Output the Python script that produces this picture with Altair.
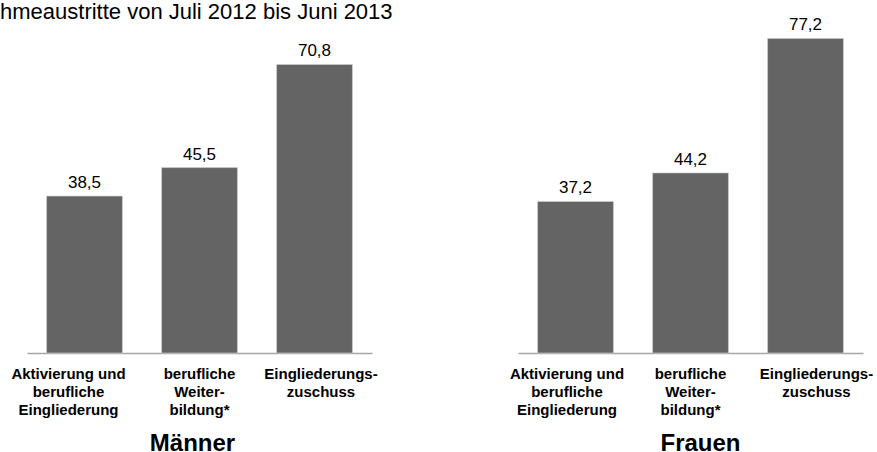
import altair as alt
import pandas as pd

FONT = "Liberation Sans"

title_text = "hmeaustritte von Juli 2012 bis Juni 2013"
categories = [
    "Aktivierung und|berufliche|Eingliederung",
    "berufliche|Weiter-|bildung*",
    "Eingliederungs-|zuschuss",
]
maenner = [38.5, 45.5, 70.8]
frauen = [37.2, 44.2, 77.2]
panel_names = ["Männer", "Frauen"]
# horizontal shift of the category labels relative to their bars (per panel)
label_shift = {"Männer": [-16, 0, 6.5], "Frauen": [-8.5, 0, 11]}
title_x = {"Männer": 165, "Frauen": 182}


def panel(values, name, with_title):
    df = pd.DataFrame({"kategorie": categories, "wert": values})
    base = alt.Chart(df).transform_calculate(
        label="replace(format(datum.wert, '.1f'), '.', ',')"
    )
    shifts = label_shift[name]
    label_offset = {
        "condition": [
            {"test": f"datum.value == '{categories[0]}'", "value": shifts[0]},
            {"test": f"datum.value == '{categories[2]}'", "value": shifts[2]},
        ],
        "value": shifts[1],
    }
    x = alt.X(
        "kategorie:N",
        sort=categories,
        scale=alt.Scale(paddingInner=0.34, paddingOuter=0.17),
        axis=alt.Axis(
            title=name,
            labelExpr="split(datum.label, '|')",
            labelAngle=0,
            labelFont=FONT,
            labelFontSize=15,
            labelFontWeight="bold",
            labelLineHeight=18,
            labelPadding=13,
            labelColor="black",
            labelLimit=300,
            labelOffset=label_offset,
            ticks=False,
            tickSize=0,
            domainColor="#a6a6a6",
            domainWidth=1.5,
            grid=False,
            titleFont=FONT,
            titleFontSize=24,
            titleFontWeight="bold",
            titleColor="black",
            titleX=title_x[name],
            titleY=97,
            titleBaseline="alphabetic",
        ),
    )
    y = alt.Y("wert:Q", scale=alt.Scale(domain=[0, 80]), axis=None)
    bars = base.mark_bar(color="#646464", stroke="#d4d4d4", strokeWidth=0.6).encode(x=x, y=y)
    labels = base.mark_text(
        fontSize=17, dy=-8, baseline="alphabetic", font=FONT, color="black"
    ).encode(x=alt.X("kategorie:N", sort=categories), y=y, text="label:N")
    layers = [bars, labels]
    if with_title:
        t = alt.Chart(alt.Data(values=[{"t": title_text}])).mark_text(
            align="left", baseline="alphabetic", fontSize=22, font=FONT, color="black"
        ).encode(x=alt.value(-27), y=alt.value(-8), text="t:N")
        layers.append(t)
    return alt.layer(*layers).properties(width=345, height=326)


chart = (
    alt.hconcat(
        panel(maenner, panel_names[0], True),
        panel(frauen, panel_names[1], False),
        spacing=146,
        bounds="flush",
    )
    .properties(padding={"left": 0, "top": 1, "right": 0, "bottom": 10}, background="white")
    .configure(font=FONT)
    .configure_view(stroke=None)
)

chart.save("out.html", embed_options={"renderer": "svg", "actions": False})
